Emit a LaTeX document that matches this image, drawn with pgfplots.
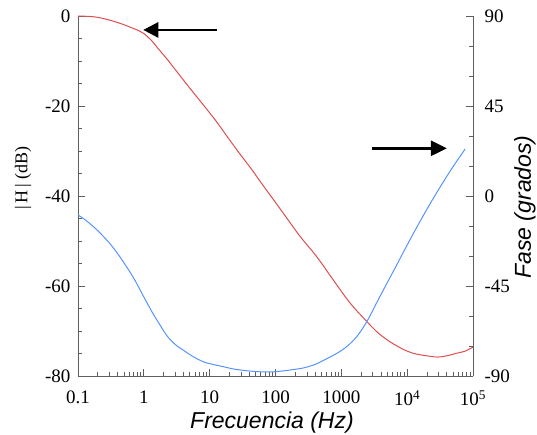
\documentclass[border=0pt]{standalone}
\usepackage{pgfplots}
\pgfplotsset{compat=1.18}
\usepackage{fontspec}
\setmainfont{Liberation Serif}
\newfontfamily\arialfont{Liberation Sans}
\newfontfamily\timesfont{Liberation Serif}
\usetikzlibrary{arrows.meta}
\definecolor{magred}{RGB}{222,78,78}
\definecolor{phblue}{RGB}{85,148,252}
\definecolor{spinegray}{RGB}{95,95,95}
\begin{document}
\begin{tikzpicture}
\path[use as bounding box] (-78pt,-58pt) rectangle (459pt,376pt);
\begin{axis}[
  at={(0,0)}, anchor=south west,
  scale only axis, width=395pt, height=360pt,
  xmode=log, xmin=0.1, xmax=100000,
  ymin=-80, ymax=0,
  axis x line*=bottom, axis y line*=left,
  tick align=inside,
  major tick length=7pt, minor tick length=4pt,
  tick label style={font=\timesfont\fontsize{19}{22}\selectfont},
  /pgf/number format/assume math mode=true,
  axis line style={spinegray, line width=0.9pt},
  tick style={spinegray, line width=0.8pt},
  clip=false,
  xtick={0.1,1,10,100,1000,10000,100000},
  xticklabels={0.1,1,10,100,1000,10\textsuperscript{4},10\textsuperscript{5}},
  minor xtick={0.2,0.3,0.4,0.5,0.6,0.7,0.8,0.9,2,3,4,5,6,7,8,9,20,30,40,50,60,70,80,90,200,300,400,500,600,700,800,900,2000,3000,4000,5000,6000,7000,8000,9000,20000,30000,40000,50000,60000,70000,80000,90000},
  ytick={-80,-60,-40,-20,0}, minor y tick num=3,
  yticklabel style={xshift=-4pt},
  xticklabel style={yshift=-11pt},
]
\addplot[magred, line width=1pt, smooth] coordinates {
(0.1,0) (0.15,-0.1) (0.2,-0.3) (0.3,-0.9) (0.45,-1.7) (0.65,-2.6) (0.85,-3.3)
(1,-3.9) (1.3,-5.4) (1.6,-7.0) (2.2,-9.4) (3,-11.9) (4.5,-15.2) (7,-18.7)
(12,-23) (20,-27.5) (30,-31) (44,-34.2) (65,-37.7) (93,-40.8) (150,-45.0)
(237,-49) (424,-53.5) (758,-58.7) (1360,-63.8) (2440,-67.9) (3600,-70.4)
(5500,-72.4) (8500,-74) (12000,-74.9) (16000,-75.3) (22000,-75.6)
(29000,-75.8) (40000,-75.5) (58000,-74.9) (75000,-74.5) (100000,-73.6)
};
\draw[black, line width=2.6pt, -{Triangle[length=15pt,width=15pt]}]
  (axis cs:12.8,-3.1) -- (axis cs:0.98,-3.1);
\draw[black, line width=2.6pt, -{Triangle[length=16pt,width=15pt]}]
  (axis cs:2900,-29.4) -- (axis cs:40100,-29.4);
\end{axis}
\begin{axis}[
  at={(0,0)}, anchor=south west,
  scale only axis, width=395pt, height=360pt,
  xmode=log, xmin=0.1, xmax=100000,
  ymin=-90, ymax=90,
  axis x line=none, axis y line*=right,
  tick align=inside,
  major tick length=7pt, minor tick length=4pt,
  tick label style={font=\timesfont\fontsize{19}{22}\selectfont},
  /pgf/number format/assume math mode=true,
  axis line style={spinegray, line width=0.9pt},
  tick style={spinegray, line width=0.8pt},
  clip=false,
  ytick={-90,-45,0,45,90}, minor y tick num=2,
  yticklabel style={xshift=8pt},
]
\addplot[phblue, line width=1pt, smooth] coordinates {
(0.1,-9.5) (0.13,-12) (0.195,-17) (0.3,-23.5) (0.435,-30.5) (0.7,-41)
(1,-50.5) (1.35,-58.3) (1.76,-64.5) (2.2,-69.5) (2.6,-72.3) (3.2,-75)
(3.95,-77) (5,-79.3) (6.5,-81.5) (9.1,-83.5) (16,-85.3) (23,-86.5)
(35,-87.3) (52,-87.8) (80,-88) (120,-87.6) (167,-87) (263,-86) (400,-84.2)
(535,-82.2) (862,-78.6) (1210,-75.3) (1718,-70.3) (2440,-62.8) (3890,-50)
(6200,-37.5) (10000,-24.5) (15800,-12.5) (25100,-1) (45000,12.5) (76000,23.5)
};
\end{axis}
\node[rotate=90, font=\timesfont\fontsize{18}{20}\selectfont] at (-55pt,198pt) {|\,H\,|\ (dB)};
\node[rotate=90, font=\arialfont\itshape\fontsize{23}{26}\selectfont] at (447pt,169pt) {Fase (grados)};
\node[anchor=base, font=\arialfont\itshape\fontsize{23}{26}\selectfont] at (194pt,-52pt) {Frecuencia (Hz)};
\end{tikzpicture}
\end{document}
